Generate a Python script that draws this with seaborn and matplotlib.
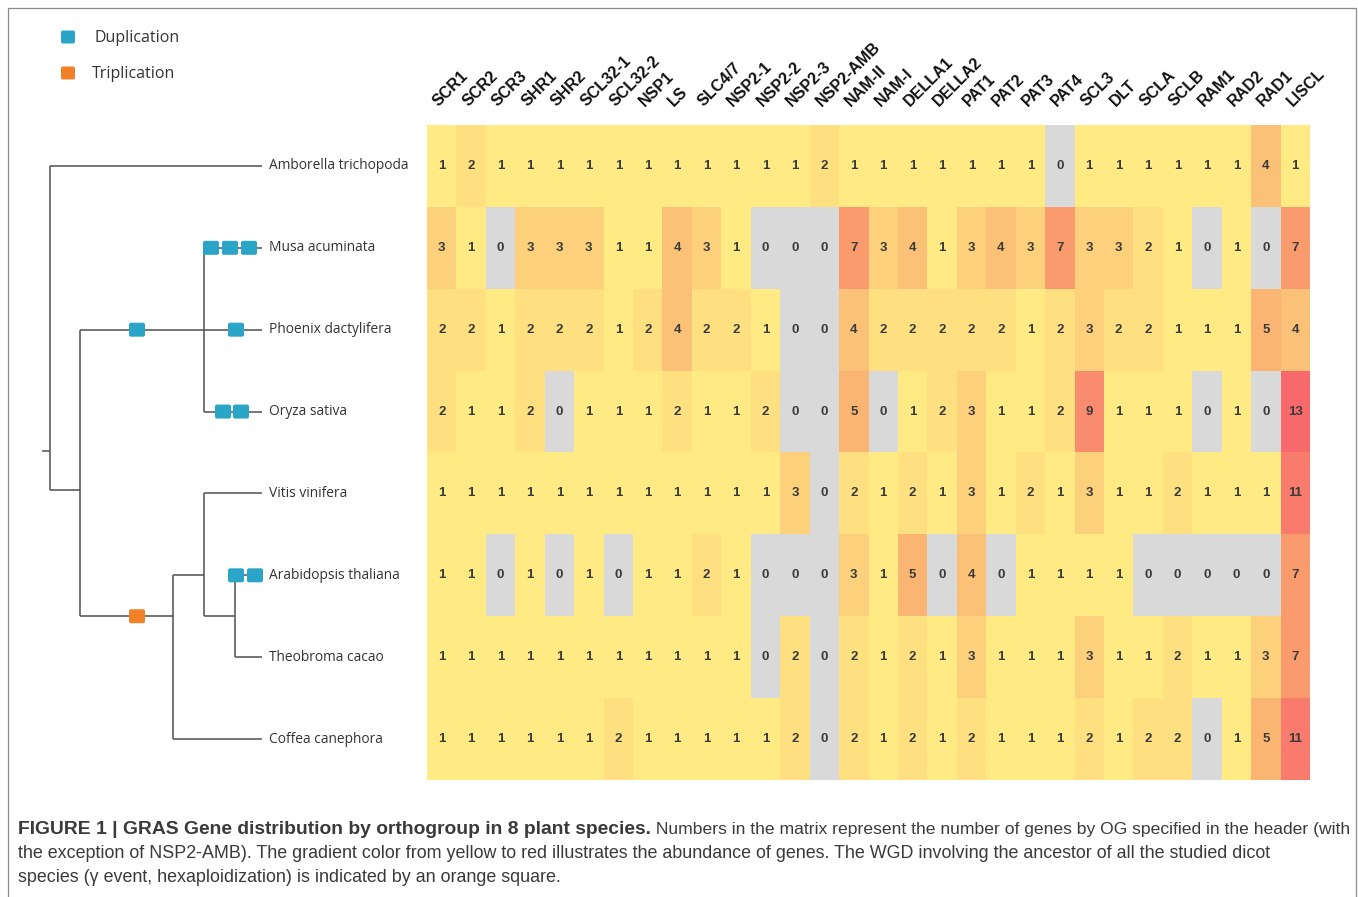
import matplotlib
matplotlib.use('Agg')
import matplotlib.pyplot as plt
import numpy as np
import pandas as pd
import seaborn as sns
from matplotlib.colors import LinearSegmentedColormap, ListedColormap
from matplotlib.patches import FancyBboxPatch, Rectangle

sns.set_theme(style='white')
plt.rcParams['font.family'] = ['Liberation Sans', 'DejaVu Sans']

# ---- data ----
orthogroups = ['SCR1', 'SCR2', 'SCR3', 'SHR1', 'SHR2', 'SCL32-1', 'SCL32-2', 'NSP1', 'LS', 'SLC4/7',
               'NSP2-1', 'NSP2-2', 'NSP2-3', 'NSP2-AMB', 'NAM-II', 'NAM-I', 'DELLA1', 'DELLA2',
               'PAT1', 'PAT2', 'PAT3', 'PAT4', 'SCL3', 'DLT', 'SCLA', 'SCLB', 'RAM1', 'RAD2', 'RAD1', 'LISCL']
species = ['Amborella trichopoda', 'Musa acuminata', 'Phoenix dactylifera', 'Oryza sativa',
           'Vitis vinifera', 'Arabidopsis thaliana', 'Theobroma cacao', 'Coffea canephora']

amborella   = [1, 2, 1, 1, 1, 1, 1, 1, 1, 1, 1, 1, 1, 2, 1, 1, 1, 1, 1, 1, 1, 0, 1, 1, 1, 1, 1, 1, 4, 1]
musa        = [3, 1, 0, 3, 3, 3, 1, 1, 4, 3, 1, 0, 0, 0, 7, 3, 4, 1, 3, 4, 3, 7, 3, 3, 2, 1, 0, 1, 0, 7]
phoenix     = [2, 2, 1, 2, 2, 2, 1, 2, 4, 2, 2, 1, 0, 0, 4, 2, 2, 2, 2, 2, 1, 2, 3, 2, 2, 1, 1, 1, 5, 4]
oryza       = [2, 1, 1, 2, 0, 1, 1, 1, 2, 1, 1, 2, 0, 0, 5, 0, 1, 2, 3, 1, 1, 2, 9, 1, 1, 1, 0, 1, 0, 13]
vitis       = [1, 1, 1, 1, 1, 1, 1, 1, 1, 1, 1, 1, 3, 0, 2, 1, 2, 1, 3, 1, 2, 1, 3, 1, 1, 2, 1, 1, 1, 11]
arabidopsis = [1, 1, 0, 1, 0, 1, 0, 1, 1, 2, 1, 0, 0, 0, 3, 1, 5, 0, 4, 0, 1, 1, 1, 1, 0, 0, 0, 0, 0, 7]
theobroma   = [1, 1, 1, 1, 1, 1, 1, 1, 1, 1, 1, 0, 2, 0, 2, 1, 2, 1, 3, 1, 1, 1, 3, 1, 1, 2, 1, 1, 3, 7]
coffea      = [1, 1, 1, 1, 1, 1, 2, 1, 1, 1, 1, 1, 2, 0, 2, 1, 2, 1, 2, 1, 1, 1, 2, 1, 2, 2, 0, 1, 5, 11]

# duplication / triplication events: (row, x position of square in px)
dup_events = [(1, 211), (1, 230), (1, 249), (2, 137), (2, 236), (3, 223), (3, 241), (5, 236), (5, 255)]
trip_events = [(5.5, 137)]

caption_bold = 'FIGURE 1 | GRAS Gene distribution by orthogroup in 8 plant species.'
caption_rest = [' Numbers in the matrix represent the number of genes by OG specified in the header (with',
                'the exception of NSP2-AMB). The gradient color from yellow to red illustrates the abundance of genes. The WGD involving the ancestor of all the studied dicot',
                'species (\u03b3 event, hexaploidization) is indicated by an orange square.']

df = pd.DataFrame([amborella, musa, phoenix, oryza, vitis, arabidopsis, theobroma, coffea],
                  index=species, columns=orthogroups)

W, H = 1358, 897
fig = plt.figure(figsize=(W / 100, H / 100), dpi=100)

# full-figure canvas in pixel coordinates (y down)
cv = fig.add_axes([0, 0, 1, 1])
cv.set_xlim(0, W)
cv.set_ylim(H, 0)
cv.axis('off')

# heatmap
hm_left, hm_right, hm_top, hm_bot = 427, 1310, 125, 780
ax = fig.add_axes([hm_left / W, 1 - hm_bot / H, (hm_right - hm_left) / W, (hm_bot - hm_top) / H])
cmap = LinearSegmentedColormap.from_list(
    'yr', [(0, '#ffea84'), (1 / 12, '#fee081'), (2 / 12, '#fdd07b'), (4 / 12, '#fab573'),
           (6 / 12, '#f99b6c'), (8 / 12, '#f98b6e'), (10 / 12, '#f97b6d'), (1, '#f8696b')])
kws = dict(fontsize=9.5, color='#3a3a3a', fontweight='bold')
sns.heatmap(df, mask=(df == 0), cmap=cmap, vmin=1, vmax=13, annot=True, fmt='d',
            annot_kws=kws, cbar=False, ax=ax, linewidths=0)
sns.heatmap(df, mask=(df != 0), cmap=ListedColormap(['#d9d9d9']), annot=True, fmt='d',
            annot_kws=kws, cbar=False, ax=ax, linewidths=0)
ax.set_xticks([])
ax.set_yticks([])
ax.set_xlabel('')
ax.set_ylabel('')

col_w = (hm_right - hm_left) / len(orthogroups)
row_h = (hm_bot - hm_top) / len(species)

def rowy(r):
    return hm_top + (r + 0.5) * row_h

# column headers
for j, name in enumerate(orthogroups):
    cx = hm_left + (j + 0.5) * col_w
    cv.text(cx - 6, 104, name, rotation=45, rotation_mode='anchor', ha='left', va='center',
            fontsize=11.5, fontweight='bold', color='#111111')

# tree
lc = '#505050'
lw = 1.1
tip_x = 262
horiz = [(50, tip_x, 0), (50, 80, 3.96), (80, tip_x, 2), (204, tip_x, 1), (204, tip_x, 3),
         (80, 173, 5.5), (173, tip_x, 7), (173, 204, 5), (204, tip_x, 4), (204, 235, 5.5),
         (235, tip_x, 5), (235, tip_x, 6), (42, 50, 3.48)]
vert = [(50, 0, 3.96), (80, 2, 5.5), (204, 1, 3), (173, 5, 7), (204, 4, 5.5), (235, 5, 6)]
for x0, x1, r in horiz:
    cv.plot([x0, x1], [rowy(r), rowy(r)], color=lc, lw=lw, solid_capstyle='butt')
for x, r0, r1 in vert:
    cv.plot([x, x], [rowy(r0), rowy(r1)], color=lc, lw=lw, solid_capstyle='butt')

for i, name in enumerate(species):
    cv.text(269, rowy(i), name, fontsize=9.9, family=['Open Sans', 'DejaVu Sans'],
            color='#333333', va='center', ha='left')

def square(x, y, color, w=16, h=14):
    cv.add_patch(FancyBboxPatch((x - w / 2 + 2, y - h / 2 + 2), w - 4, h - 4,
                                boxstyle='round,pad=2', fc=color, ec='none', zorder=5))

blue, orange = '#2aa5c7', '#f08128'
for r, x in dup_events:
    square(x, rowy(r), blue)
for r, x in trip_events:
    square(x, rowy(r), orange)

# legend
square(68, 37, blue, 14, 13)
square(68, 73, orange, 14, 13)
cv.text(94, 38, 'Duplication', fontsize=11.5, family=['Open Sans', 'DejaVu Sans'], color='#333333', va='center')
cv.text(92, 74, 'Triplication', fontsize=11.5, family=['Open Sans', 'DejaVu Sans'], color='#333333', va='center')

# figure border
cv.add_patch(Rectangle((8, 8), 1348, 900, fill=False, ec='#8c8c8c', lw=0.9))

# caption
cap_kw = dict(color='#3a3a3a', va='baseline', ha='left')
t = cv.text(18, 834, caption_bold, fontweight='bold', fontsize=13.9, **cap_kw)
fig.canvas.draw()
bb = t.get_window_extent(fig.canvas.get_renderer())
cv.text(bb.x1, 834, caption_rest[0], fontsize=12.6, **cap_kw)
cv.text(18, 858, caption_rest[1], fontsize=12.9, **cap_kw)
cv.text(18, 882, caption_rest[2], fontsize=12.9, **cap_kw)

fig.savefig('out.png', dpi=100)
